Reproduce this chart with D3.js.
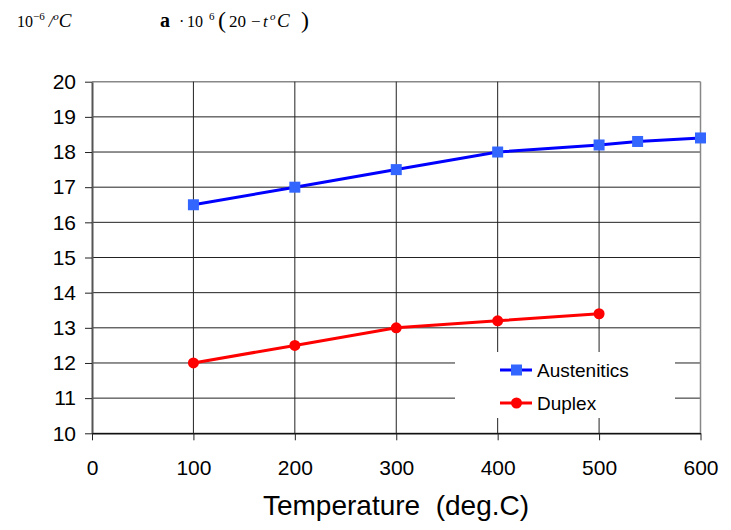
<!DOCTYPE html>
<html><head><meta charset="utf-8">
<script src="https://cdn.jsdelivr.net/npm/d3@7"></script>
<style>body{margin:0;background:#fff}svg{display:block}</style>
</head><body>
<svg id="c" width="731" height="530"></svg>
<script>
const seriesNames = ["Austenitics", "Duplex"];
const austTemps = [100, 200, 300, 400, 500, 538, 600];
const austValues = [16.5, 17.0, 17.5, 18.0, 18.2, 18.3, 18.4];
const duplexTemps = [100, 200, 300, 400, 500];
const duplexValues = [12.0, 12.5, 13.0, 13.2, 13.4];
const xTicks = [0, 100, 200, 300, 400, 500, 600];
const yTicks = [10, 11, 12, 13, 14, 15, 16, 17, 18, 19, 20];

const svg = d3.select("#c");
const L = 92, R = 700.5, T = 81.7, B = 433.3;
const x = d3.scaleLinear().domain([0, 600]).range([L, R]);
const y = d3.scaleLinear().domain([10, 20]).range([B, T]);
const serif = "Liberation Serif, Times New Roman, serif";
const sans = "Liberation Sans, Arial, sans-serif";

// top-left formula texts
const t1 = svg.append("text").attr("x", 17).attr("y", 27)
  .attr("font-family", serif).attr("font-size", 16);
t1.append("tspan").text("10");
t1.append("tspan").attr("dy", -7).attr("font-size", 11).text("−6");
t1.append("tspan").attr("dy", 7).attr("font-style","italic").text(" /");
t1.append("tspan").attr("dy", -7).attr("font-size", 11).attr("font-style","italic").text("o");
t1.append("tspan").attr("dy", 7).attr("font-size", 19).attr("font-style","italic").text("C");

const t2 = svg.append("text").attr("y", 27)
  .attr("font-family", serif).attr("font-size", 16);
t2.append("tspan").attr("x", 160).attr("font-weight","bold").attr("font-size", 20).text("a");
t2.append("tspan").attr("x", 179).text("·");
t2.append("tspan").attr("x", 187).text("10");
t2.append("tspan").attr("x", 209).attr("dy", -7).attr("font-size", 11).text("6");
t2.append("tspan").attr("x", 218).attr("dy", 8).attr("font-size", 24).text("(");
t2.append("tspan").attr("x", 229).attr("dy", -1).attr("font-size", 17).text("20");
t2.append("tspan").attr("x", 251).attr("font-size", 17).text("−");
t2.append("tspan").attr("x", 263).attr("font-style","italic").attr("font-size", 17).text("t");
t2.append("tspan").attr("x", 270).attr("dy", -7).attr("font-size", 11).attr("font-style","italic").text("o");
t2.append("tspan").attr("x", 277).attr("dy", 7).attr("font-size", 19).attr("font-style","italic").text("C");
t2.append("tspan").attr("x", 301).attr("dy", 1).attr("font-size", 24).text(")");

// gridlines
svg.append("g").selectAll("line").data(yTicks).join("line")
  .attr("x1", L).attr("x2", R).attr("y1", d => y(d)).attr("y2", d => y(d))
  .attr("stroke", d => d === 20 ? "#888" : "#222").attr("stroke-width", d => d === 20 ? 1.5 : 1);
svg.append("g").selectAll("line").data(xTicks.slice(1)).join("line")
  .attr("x1", d => x(d)).attr("x2", d => x(d)).attr("y1", T).attr("y2", B)
  .attr("stroke", d => d === 600 ? "#888" : "#222").attr("stroke-width", d => d === 600 ? 1.5 : 1);

// axes
const yAxis = d3.axisLeft(y).tickValues(yTicks).tickSize(7).tickPadding(9).tickSizeOuter(0);
const gy = svg.append("g").attr("transform", `translate(${L},0)`).call(yAxis);
const xAxis = d3.axisBottom(x).tickValues(xTicks).tickSize(7).tickPadding(20).tickSizeOuter(0);
const gx = svg.append("g").attr("transform", `translate(0,${B})`).call(xAxis);
[gy, gx].forEach(g => {
  g.selectAll("text").attr("font-family", sans).attr("font-size", 21).attr("fill", "#000");
  g.selectAll(".tick line").attr("stroke", "#222");
});
gy.select(".domain").attr("stroke", "#555").attr("stroke-width", 2);
gx.select(".domain").attr("stroke", "#111").attr("stroke-width", 1.5);

// legend background (white, covers grid)
svg.append("rect").attr("x", 455).attr("y", 352).attr("width", 220).attr("height", 66).attr("fill", "#fff");

// series
const line = d3.line().x(d => x(d[0])).y(d => y(d[1]));
const aust = austTemps.map((t, i) => [t, austValues[i]]);
const dup = duplexTemps.map((t, i) => [t, duplexValues[i]]);
svg.append("path").datum(aust).attr("d", line).attr("fill", "none").attr("stroke", "#0000ff").attr("stroke-width", 3);
svg.append("g").selectAll("rect").data(aust).join("rect")
  .attr("x", d => x(d[0]) - 5.5).attr("y", d => y(d[1]) - 5.5).attr("width", 11).attr("height", 11).attr("fill", "#3366ff");
svg.append("path").datum(dup).attr("d", line).attr("fill", "none").attr("stroke", "#ff0000").attr("stroke-width", 3);
svg.append("g").selectAll("circle").data(dup).join("circle")
  .attr("cx", d => x(d[0])).attr("cy", d => y(d[1])).attr("r", 5.5).attr("fill", "#ff0000");

// legend
const lg = svg.append("g");
[0, 1].forEach(i => {
  const yy = 370 + i * 33;
  const col = i === 0 ? "#0000ff" : "#ff0000";
  lg.append("line").attr("x1", 500).attr("x2", 532).attr("y1", yy).attr("y2", yy).attr("stroke", col).attr("stroke-width", 3);
  if (i === 0) lg.append("rect").attr("x", 511).attr("y", yy - 5.5).attr("width", 11).attr("height", 11).attr("fill", "#3366ff");
  else lg.append("circle").attr("cx", 516.5).attr("cy", yy).attr("r", 5.5).attr("fill", "#ff0000");
  lg.append("text").attr("x", 537).attr("y", yy + 7).attr("font-family", sans)
    .attr("font-size", 19).text(seriesNames[i]);
});

// x-axis title
svg.append("text").attr("x", 396).attr("y", 515).attr("text-anchor", "middle")
  .attr("font-family", sans).attr("font-size", 28).style("white-space", "pre")
  .text("Temperature  (deg.C)");
</script>
</body></html>
